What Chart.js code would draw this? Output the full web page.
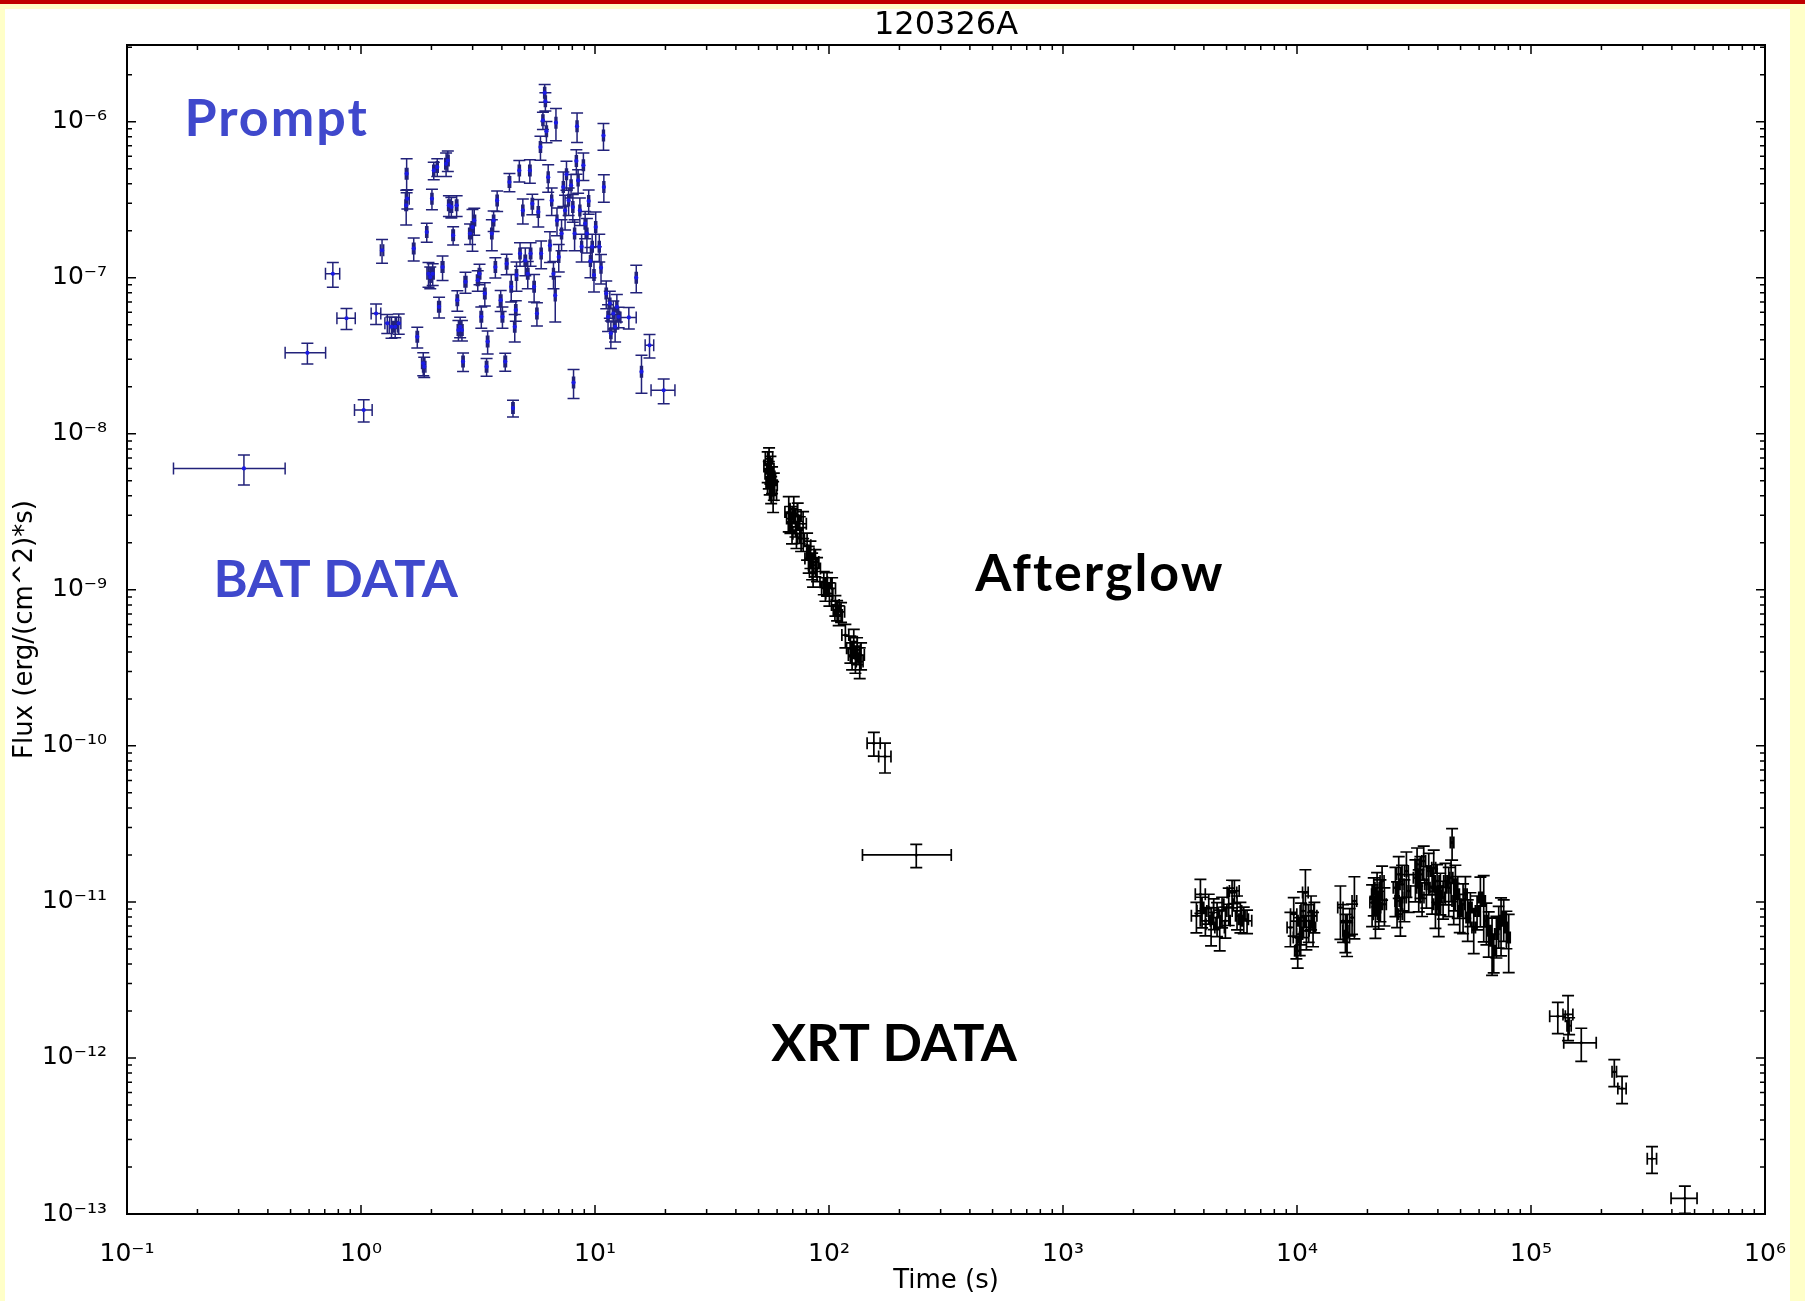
<!DOCTYPE html>
<html>
<head>
<meta charset="utf-8">
<script src="https://cdn.jsdelivr.net/npm/chart.js@4.4.1/dist/chart.umd.min.js"></script>
<style>
html,body{margin:0;padding:0;background:#FFFFC8;}
body{width:1805px;height:1301px;position:relative;overflow:hidden;}
#red{position:absolute;left:0;top:0;width:1805px;height:4px;background:#C00000;}
#white{position:absolute;left:5px;top:9px;width:1785px;height:1292px;background:#ffffff;}
#c{position:absolute;left:0;top:0;}
</style>
</head>
<body>
<div id="red"></div><div id="white"></div>
<canvas id="c" width="1805" height="1301"></canvas>
<script>
// ---------------- data ----------------
const chartTitle = '120326A';
const xAxisTitle = 'Time (s)';
const yAxisTitle = 'Flux (erg/(cm^2)*s)';

const xTickValues = [1e-1, 1e0, 1e1, 1e2, 1e3, 1e4, 1e5, 1e6];
const xTickLabels = ['10⁻¹', '10⁰', '10¹', '10²', '10³', '10⁴', '10⁵', '10⁶'];
const yTickValues = [1e-13, 1e-12, 1e-11, 1e-10, 1e-9, 1e-8, 1e-7, 1e-6];
const yTickLabels = ['10⁻¹³', '10⁻¹²', '10⁻¹¹', '10⁻¹⁰', '10⁻⁹', '10⁻⁸', '10⁻⁷', '10⁻⁶'];

// BAT (prompt) points: time (s), time error, flux, flux error
const batT = [
  0.316, 0.59, 0.758, 0.867, 1.027, 1.16, 1.23, 1.295, 1.35, 1.40,
  1.45, 1.567, 1.56, 1.578, 1.68, 1.74, 1.845, 1.863, 1.91, 1.943,
  1.977, 2.01, 2.025, 2.046, 2.118, 2.156, 2.231, 2.31, 2.35, 2.375,
  2.433, 2.476, 2.563, 2.58, 2.608, 2.653, 2.70, 2.73, 2.796, 2.924,
  2.995, 3.048, 3.155, 3.21, 3.267, 3.382, 3.441, 3.477, 3.624, 3.688,
  3.752, 3.818, 3.953, 4.022, 4.135, 4.193, 4.31, 4.385, 4.462, 4.54,
  4.587, 4.619, 4.749, 4.782, 4.916, 5.037, 5.161, 5.269, 5.306, 5.398,
  5.493, 5.647, 5.726, 5.847, 5.888, 5.99, 6.095, 6.137, 6.201, 6.31,
  6.42, 6.531, 6.645, 6.763, 6.81, 6.88, 7.0, 7.196, 7.322, 7.45,
  7.554, 7.713, 7.903, 8.041, 8.097, 8.181, 8.325, 8.382, 8.47, 8.617,
  8.768, 8.921, 9.077, 9.237, 9.397, 9.561, 9.728, 9.9, 10.07, 10.43,
  10.61, 10.87, 10.91, 11.17, 11.37, 11.57, 11.69, 11.98, 12.19, 12.4,
  12.62, 13.95, 15.01, 15.8, 17.1, 19.66
];
const batTErr = [
  0.158, 0.116, 0.053, 0.078, 0.089, 0.055, 0.02, 0.03, 0.03, 0.03,
  0.03, 0.02, 0.02, 0.03, 0.02, 0.02, 0.03, 0.03, 0.02, 0.03,
  0.03, 0.02, 0.03, 0.02, 0.02, 0.03, 0.03, 0.03, 0.03, 0.03,
  0.03, 0.03, 0.03, 0.03, 0.03, 0.03, 0.03, 0.03, 0.04, 0.04,
  0.04, 0.04, 0.04, 0.04, 0.04, 0.04, 0.04, 0.04, 0.04, 0.04,
  0.04, 0.04, 0.05, 0.05, 0.05, 0.05, 0.05, 0.05, 0.05, 0.05,
  0.05, 0.05, 0.05, 0.05, 0.05, 0.06, 0.06, 0.06, 0.06, 0.06,
  0.06, 0.06, 0.06, 0.06, 0.06, 0.06, 0.06, 0.06, 0.06, 0.06,
  0.06, 0.06, 0.06, 0.06, 0.06, 0.06, 0.07, 0.07, 0.07, 0.07,
  0.07, 0.07, 0.08, 0.08, 0.08, 0.08, 0.08, 0.08, 0.08, 0.08,
  0.08, 0.09, 0.09, 0.09, 0.09, 0.09, 0.1, 0.1, 0.1, 0.1,
  0.1, 0.1, 0.1, 0.12, 0.12, 0.12, 0.12, 0.12, 0.12, 0.12,
  0.12, 1.05, 0.15, 0.15, 0.72, 2.3
];
const batF = [
  6.0e-9, 3.3e-8, 1.06e-7, 5.5e-8, 1.42e-8, 5.9e-8, 1.5e-7, 5.1e-8, 4.85e-8, 4.85e-8,
  5.1e-8, 4.64e-7, 2.91e-7, 3.21e-7, 1.54e-7, 4.18e-8, 2.83e-8, 2.69e-8, 1.96e-7, 1.06e-7,
  1.01e-7, 3.21e-7, 1.06e-7, 4.87e-7, 5.12e-7, 6.51e-8, 1.17e-7, 5.37e-7, 5.64e-7, 2.91e-7,
  2.84e-7, 1.87e-7, 2.91e-7, 7.18e-8, 4.62e-8, 4.85e-8, 4.62e-8, 2.9e-8, 9.41e-8, 1.92e-7,
  2.11e-7, 2.33e-7, 9.64e-8, 1.06e-7, 5.62e-8, 7.93e-8, 2.69e-8, 3.9e-8, 1.92e-7, 2.33e-7,
  1.17e-7, 3.13e-7, 7.18e-8, 5.62e-8, 2.9e-8, 1.23e-7, 4.1e-7, 8.74e-8, 1.46e-8, 4.85e-8,
  6.2e-8, 1.04e-7, 4.87e-7, 1.43e-7, 2.7e-7, 1.29e-7, 1.06e-7, 4.87e-7, 1.43e-7, 2.98e-7,
  8.74e-8, 5.9e-8, 2.64e-7, 6.87e-7, 1.43e-7, 1.02e-6, 1.53e-6, 1.35e-6, 8.69e-7, 4.41e-7,
  1.61e-7, 3.13e-7, 1.06e-7, 7.7e-8, 9.85e-7, 2.33e-7, 1.36e-7, 1.92e-7, 3.81e-7, 2.7e-7,
  4.6e-7, 3.13e-7, 3.91e-7, 2.84e-7, 2.13e-8, 1.92e-7, 5.6e-7, 9.35e-7, 4.2e-7, 2.7e-7,
  1.58e-7, 5.25e-7, 2.22e-7, 1.92e-7, 3.1e-7, 1.28e-7, 1.58e-7, 1.04e-7, 2.11e-7, 1.58e-7,
  1.16e-7, 8.15e-7, 3.81e-7, 7.93e-8, 5.62e-8, 6.84e-8, 4.4e-8, 5.9e-8, 4.85e-8, 6.51e-8,
  5.62e-8, 5.57e-8, 1.0e-7, 2.5e-8, 3.69e-8, 1.9e-8
];
const batFErr = [
  1.3e-9, 5.0e-9, 1.9e-8, 8.5e-9, 2.3e-9, 8.9e-9, 2.6e-8, 7.1e-9, 7.5e-9, 7.3e-9,
  7.6e-9, 1.14e-7, 7.3e-8, 4.5e-8, 2.6e-8, 6.3e-9, 4.8e-9, 4.0e-9, 2.7e-8, 1.9e-8,
  1.6e-8, 4.8e-8, 1.7e-8, 6.3e-8, 6.7e-8, 1.0e-8, 2.1e-8, 9.2e-8, 8.5e-8, 4.4e-8,
  4.3e-8, 2.5e-8, 4.4e-8, 1.08e-8, 6.9e-9, 7.3e-9, 6.9e-9, 3.9e-9, 1.45e-8, 2.9e-8,
  6.3e-8, 4.6e-8, 1.45e-8, 1.6e-8, 8.7e-9, 1.35e-8, 3.5e-9, 6.6e-9, 4.3e-8, 3.5e-8,
  1.75e-8, 4.7e-8, 1.1e-8, 8.7e-9, 3.8e-9, 1.85e-8, 5.5e-8, 1.75e-8, 1.8e-9, 9.7e-9,
  9.3e-9, 2.2e-8, 7.6e-8, 2.45e-8, 4.9e-8, 2.6e-8, 2.1e-8, 8.4e-8, 2.45e-8, 4.5e-8,
  1.75e-8, 1.0e-8, 5.3e-8, 1.2e-7, 2.9e-8, 1.3e-7, 2.0e-7, 1.8e-7, 1.35e-7, 8.8e-8,
  3.6e-8, 6.3e-8, 2.1e-8, 2.5e-8, 2.3e-7, 4.7e-8, 2.7e-8, 4.3e-8, 9.5e-8, 6.8e-8,
  9.7e-8, 6.3e-8, 6.7e-8, 5.7e-8, 4.5e-9, 4.3e-8, 1.0e-7, 2.0e-7, 7.2e-8, 5.4e-8,
  3.2e-8, 1.05e-7, 4.4e-8, 4.8e-8, 5.5e-8, 2.8e-8, 3.2e-8, 2.3e-8, 5.3e-8, 3.2e-8,
  2.5e-8, 1.6e-7, 7.6e-8, 1.6e-8, 1.1e-8, 1.35e-8, 8.8e-9, 1.2e-8, 9.7e-9, 1.3e-8,
  8.4e-9, 8.7e-9, 2.0e-8, 6.8e-9, 6.3e-9, 3.4e-9
];

// XRT (afterglow) points: time (s), time error, flux, flux error
const xrtT = [
  54.7, 55.3, 55.45, 55.8, 56.2, 56.6, 57.1, 57.7, 58.1,
  67.3, 68.4, 69.5, 70.7, 71.9, 72.6, 73.5, 75.0, 76.0, 77.5,
  80.6, 81.9, 83.3, 84.7, 85.5, 87.5, 88.9,
  95.0, 96.5, 98.1, 100.4, 103.1,
  106.5, 108.3, 110.0, 112.6, 117.5,
  123.4, 125.5, 127.6, 129.7, 131.8, 135.3, 137.1,
  155.5, 173.5, 236,
  3717, 3866, 3929, 4059, 4196, 4294, 4407, 4554, 4675, 4784, 4943, 5108, 5278, 5401, 5543, 5730, 5921, 6117,
  9372, 9683, 9940, 10072, 10272, 10409, 10615, 10862, 10970, 11222, 11483, 11711, 11864,
  15330, 15738, 16102, 16368, 16803, 17191, 17590,
  20937, 21283, 21634, 21991, 22356, 22725, 23100, 23638,
  26336, 26770, 27213, 27666, 28122, 28777, 29346, 30030,
  32063, 32593, 33131, 33677, 34240, 34804, 35730, 36560,
  37779, 38403, 39044, 39689, 40344, 41010, 42101, 43082,
  44514, 45551, 46004, 46753, 47525, 48631, 49593,
  51254, 52446, 53656, 55081, 56924, 58818, 60775, 62806, 64474, 65974, 68170, 69295, 71135, 72790, 74473, 76451, 78485, 80311,
  130200, 144000, 145500, 164000, 227000, 245000, 329000, 454600
];
const xrtTErr = [
  2, 2, 2, 2, 2, 2, 2, 2, 2,
  2.5, 2.5, 2.5, 2.5, 2.5, 2.5, 2.5, 2.5, 2.5, 2.5,
  3, 3, 3, 3, 3, 3, 3,
  3.5, 3.5, 3.5, 3.5, 3.5,
  4, 4, 4, 4, 4,
  4.5, 4.5, 4.5, 4.5, 4.5, 4.5, 4.5,
  10, 10.5, 97,
  180, 190, 190, 200, 200, 210, 210, 220, 220, 230, 240, 240, 250, 260, 260, 270, 280, 290,
  300, 300, 300, 300, 300, 300, 300, 300, 300, 300, 300, 300, 300,
  400, 400, 400, 400, 400, 400, 400,
  450, 450, 450, 450, 450, 450, 450, 450,
  550, 550, 550, 550, 550, 550, 550, 550,
  650, 650, 650, 650, 650, 650, 650, 650,
  750, 750, 750, 750, 750, 750, 750, 750,
  800, 800, 800, 800, 800, 800, 800,
  900, 900, 900, 900, 1000, 1000, 1000, 1000, 1100, 1100, 1100, 1100, 1200, 1200, 1200, 1200, 1200, 1200,
  10000, 7000, 3000, 26000, 5000, 10000, 15000, 57800
];
const xrtF = [
  6.26e-9, 5.54e-9, 6.91e-9, 4.9e-9, 5.96e-9, 4.44e-9, 5.14e-9, 4.03e-9, 4.67e-9,
  3.15e-9, 2.86e-9, 2.53e-9, 3.31e-9, 2.72e-9, 2.29e-9, 3.0e-9, 2.46e-9, 2.13e-9, 2.65e-9,
  1.93e-9, 1.59e-9, 1.71e-9, 1.44e-9, 1.3e-9, 1.51e-9, 1.37e-9,
  1.12e-9, 1.02e-9, 1.1e-9, 9.47e-10, 1.02e-9,
  7.98e-10, 7.42e-10, 6.89e-10, 7.23e-10, 5.13e-10,
  4.22e-10, 3.82e-10, 4.65e-10, 3.64e-10, 4.12e-10, 3.47e-10, 3.82e-10,
  1.04e-10, 8.55e-11, 2.0e-11,
  8.14e-12, 1.119e-11, 8.76e-12, 7.56e-12, 9.2e-12, 7.2e-12, 8.55e-12, 7.94e-12, 6.86e-12, 8.76e-12, 7.56e-12, 9.66e-12, 1.147e-11, 1.176e-11, 8.76e-12, 8.14e-12, 7.75e-12, 7.56e-12,
  6.86e-12, 8.34e-12, 5.92e-12, 4.86e-12, 6.22e-12, 7.56e-12, 8.76e-12, 1.147e-11, 6.53e-12, 7.56e-12, 8.76e-12, 6.86e-12, 8.14e-12,
  9.2e-12, 7.56e-12, 6.53e-12, 5.92e-12, 7.56e-12, 7.94e-12, 1.015e-11,
  9.9e-12, 1.119e-11, 8.34e-12, 1.234e-11, 9.2e-12, 1.066e-11, 1.362e-11, 9.66e-12,
  1.234e-11, 1.015e-11, 1.502e-11, 8.34e-12, 1.297e-11, 1.066e-11, 1.578e-11, 1.176e-11,
  1.43e-11, 1.74e-11, 1.234e-11, 1.502e-11, 1.066e-11, 1.828e-11, 1.297e-11, 1.578e-11,
  1.234e-11, 1.657e-11, 9.66e-12, 1.362e-11, 9.2e-12, 1.176e-11, 1.066e-11, 1.362e-11,
  1.234e-11, 1.43e-11, 2.4e-11, 1.015e-11, 1.297e-11, 1.119e-11, 8.76e-12,
  9.66e-12, 1.119e-11, 7.94e-12, 9.2e-12, 6.86e-12, 8.76e-12, 1.066e-11, 1.015e-11, 7.56e-12, 6.53e-12, 5.63e-12, 4.86e-12, 6.22e-12, 7.2e-12, 7.56e-12, 7.94e-12, 6.86e-12, 5.92e-12,
  1.85e-12, 1.9e-12, 1.61e-12, 1.25e-12, 8.15e-13, 6.36e-13, 2.26e-13, 1.26e-13
];
const xrtFErr = [
  1.4e-9, 1.1e-9, 1.2e-9, 8.4e-10, 1.2e-9, 8.7e-10, 1.0e-9, 9.0e-10, 9.2e-10,
  8.0e-10, 5.6e-10, 5.6e-10, 6.5e-10, 5.4e-10, 4.5e-10, 5.9e-10, 4.8e-10, 3.7e-10, 5.2e-10,
  3.8e-10, 3.1e-10, 3.4e-10, 2.8e-10, 2.6e-10, 3.0e-10, 2.4e-10,
  1.9e-10, 1.75e-10, 1.9e-10, 1.6e-10, 1.75e-10,
  1.2e-10, 1.1e-10, 1.0e-10, 1.05e-10, 8.8e-11,
  8.3e-11, 7.5e-11, 9.2e-11, 7.2e-11, 8.1e-11, 7.7e-11, 7.5e-11,
  1.8e-11, 1.85e-11, 3.4e-12,
  1.8e-12, 2.75e-12, 1.95e-12, 1.5e-12, 2.0e-12, 1.97e-12, 1.9e-12, 1.95e-12, 2.0e-12, 1.95e-12, 1.7e-12, 2.6e-12, 2.3e-12, 2.0e-12, 2.15e-12, 1.8e-12, 1.5e-12, 1.3e-12,
  1.7e-12, 2.3e-12, 1.6e-12, 1.1e-12, 1.7e-12, 2.25e-12, 2.85e-12, 4.6e-12, 1.6e-12, 2.05e-12, 2.15e-12, 1.7e-12, 1.8e-12,
  3.45e-12, 2.05e-12, 1.8e-12, 1.45e-12, 1.5e-12, 1.75e-12, 4.35e-12,
  2.95e-12, 3.05e-12, 2.5e-12, 3.05e-12, 2.5e-12, 3.2e-12, 3.35e-12, 2.65e-12,
  4.3e-12, 3.3e-12, 4.5e-12, 2.3e-12, 4.2e-12, 3.2e-12, 5.1e-12, 3.2e-12,
  4.3e-12, 4.75e-12, 3.7e-12, 4.5e-12, 2.6e-12, 4.5e-12, 3.85e-12, 4.7e-12,
  4.0e-12, 4.9e-12, 2.9e-12, 3.7e-12, 3.2e-12, 3.5e-12, 2.9e-12, 4.05e-12,
  4.3e-12, 4.25e-12, 5.5e-12, 3.0e-12, 4.2e-12, 3.35e-12, 2.4e-12,
  3.4e-12, 3.35e-12, 2.35e-12, 2.25e-12, 2.2e-12, 2.15e-12, 3.75e-12, 4.6e-12, 2.25e-12, 2.1e-12, 2.25e-12, 1.35e-12, 1.85e-12, 2.15e-12, 3.05e-12, 2.35e-12, 1.85e-12, 2.4e-12,
  4.2e-13, 6.1e-13, 2.0e-13, 3.0e-13, 1.6e-13, 1.26e-13, 4.4e-14, 2.5e-14
];

// text annotations (anchored at left/baseline, in data coordinates)
const annotations = [
  {text: 'Prompt',    t: 0.176, f: 8.08e-7,  color: '#3F48CC', spacing: '2px'},
  {text: 'BAT DATA',  t: 0.234, f: 9.02e-10, color: '#3F48CC', spacing: '0px'},
  {text: 'Afterglow', t: 422,   f: 9.85e-10, color: '#000000', spacing: '2px'},
  {text: 'XRT DATA',  t: 56.7,  f: 9.5e-13,  color: '#000000', spacing: '0px'}
];

// ---------------- plugins ----------------
const CAP = 6;
const errorBars = {
  id: 'errorBars',
  beforeDatasetsDraw(chart) {
    const {ctx, scales: {x, y}} = chart;
    chart.data.datasets.forEach(ds => {
      ctx.save();
      ctx.strokeStyle = ds.barColor;
      ctx.lineWidth = ds.barWidth;
      ctx.beginPath();
      ds.data.forEach((p, i) => {
        const px = x.getPixelForValue(p.x), py = y.getPixelForValue(p.y);
        const x0 = x.getPixelForValue(p.x - ds.errT[i]), x1 = x.getPixelForValue(p.x + ds.errT[i]);
        const y0 = y.getPixelForValue(p.y - ds.errF[i]), y1 = y.getPixelForValue(p.y + ds.errF[i]);
        ctx.moveTo(px, y0); ctx.lineTo(px, y1);
        ctx.moveTo(x0, py); ctx.lineTo(x1, py);
        ctx.moveTo(px - CAP, y0); ctx.lineTo(px + CAP, y0);
        ctx.moveTo(px - CAP, y1); ctx.lineTo(px + CAP, y1);
        ctx.moveTo(x0, py - CAP); ctx.lineTo(x0, py + CAP);
        ctx.moveTo(x1, py - CAP); ctx.lineTo(x1, py + CAP);
      });
      ctx.stroke();
      ctx.restore();
    });
  }
};

const axisFrame = {
  id: 'axisFrame',
  afterDatasetsDraw(chart) {
    const {ctx, chartArea: a, scales: {x, y}} = chart;
    ctx.save();
    ctx.strokeStyle = '#000';
    ctx.lineWidth = 1.5;
    ctx.beginPath();
    const major = 9, minor = 5;
    xTickValues.forEach(d => {
      for (let m = 1; m <= 9; m++) {
        const v = m * d;
        if (v < x.min || v > x.max) continue;
        const p = x.getPixelForValue(v), len = m === 1 ? major : minor;
        ctx.moveTo(p, a.bottom); ctx.lineTo(p, a.bottom - len);
        ctx.moveTo(p, a.top); ctx.lineTo(p, a.top + len);
      }
    });
    yTickValues.forEach(d => {
      for (let m = 1; m <= 9; m++) {
        const v = m * d;
        if (v < y.min || v > y.max) continue;
        const p = y.getPixelForValue(v), len = m === 1 ? major : minor;
        ctx.moveTo(a.left, p); ctx.lineTo(a.left + len, p);
        ctx.moveTo(a.right, p); ctx.lineTo(a.right - len, p);
      }
    });
    ctx.stroke();
    ctx.lineWidth = 2;
    ctx.strokeRect(a.left, a.top, a.right - a.left, a.bottom - a.top);
    ctx.restore();
  }
};

const textNotes = {
  id: 'textNotes',
  afterDraw(chart) {
    const {ctx, scales: {x, y}} = chart;
    ctx.save();
    ctx.font = 'bold 52px Lato';
    ctx.textAlign = 'left';
    ctx.textBaseline = 'alphabetic';
    annotations.forEach(n => {
      ctx.fillStyle = n.color;
      if ('letterSpacing' in ctx) ctx.letterSpacing = n.spacing;
      ctx.fillText(n.text, x.getPixelForValue(n.t), y.getPixelForValue(n.f));
    });
    ctx.restore();
  }
};

// ---------------- chart ----------------
Chart.defaults.font.family = "'DejaVu Sans', sans-serif";
Chart.defaults.color = '#000';

new Chart(document.getElementById('c'), {
  type: 'scatter',
  data: {
    datasets: [
      {
        label: 'BAT',
        data: batT.map((t, i) => ({x: t, y: batF[i]})),
        errT: batTErr, errF: batFErr,
        barColor: '#22227a', barWidth: 1.5,
        pointRadius: 2.1, pointBorderWidth: 0,
        pointBackgroundColor: '#1a1ae6'
      },
      {
        label: 'XRT',
        data: xrtT.map((t, i) => ({x: t, y: xrtF[i]})),
        errT: xrtTErr, errF: xrtFErr,
        barColor: '#000000', barWidth: 1.7,
        pointRadius: 1.5, pointBorderWidth: 0,
        pointBackgroundColor: '#000000'
      }
    ]
  },
  options: {
    responsive: false,
    animation: false,
    devicePixelRatio: 1,
    events: [],
    layout: {padding: {left: 0, right: 40, top: 0, bottom: 0}},
    plugins: {
      legend: {display: false},
      tooltip: {enabled: false},
      title: {
        display: true, fullSize: false, text: chartTitle, color: '#000',
        font: {family: "'DejaVu Sans', sans-serif", size: 32, weight: 'normal', lineHeight: 1.2},
        padding: {top: 6, bottom: 0.6}
      }
    },
    scales: {
      x: {
        type: 'logarithmic', position: 'bottom', min: 1e-1, max: 1e6,
        grid: {display: false}, border: {display: false},
        afterBuildTicks: s => { s.ticks = xTickValues.map(v => ({value: v})); },
        afterFit: s => { s.height = 87; s.paddingLeft = 0; s.paddingRight = 0; },
        ticks: {
          autoSkip: false, maxRotation: 0, minRotation: 0, padding: 17, color: '#000',
          font: {size: 25},
          callback: (v, i) => xTickLabels[i]
        },
        title: {
          display: true, text: xAxisTitle, color: '#000',
          font: {size: 26}, padding: {top: 0, bottom: 4}
        }
      },
      y: {
        type: 'logarithmic', position: 'left', min: 1e-13, max: 3.1e-6,
        grid: {display: false}, border: {display: false},
        afterBuildTicks: s => { s.ticks = yTickValues.map(v => ({value: v})); },
        afterFit: s => { s.width = 127; s.paddingTop = 0; s.paddingBottom = 0; },
        ticks: {
          autoSkip: false, padding: 12, color: '#000',
          font: {size: 25},
          callback: (v, i) => yTickLabels[i]
        },
        title: {
          display: true, text: yAxisTitle, color: '#000',
          font: {size: 26}, padding: {top: 10, bottom: 0}
        }
      }
    }
  },
  plugins: [errorBars, axisFrame, textNotes]
});
</script>
</body>
</html>
